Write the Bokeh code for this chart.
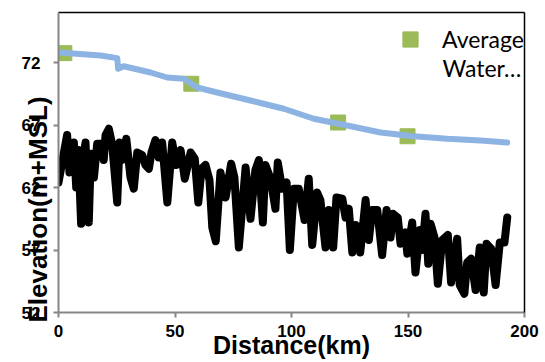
from bokeh.plotting import figure
from bokeh.models import (Range1d, FixedTicker, LinearAxis, Label, Legend, LegendItem)
from bokeh.embed import file_html
from bokeh.resources import INLINE

# ---- data ----
ground_km = [0, 3.7, 4.7, 6.6, 7.6, 8.5, 9.7, 10.6, 11.6, 13.0,
             13.9, 15.2, 16.6, 18.0, 19.4, 20.2, 21.6, 23.0, 25.2, 26.2,
             27.3, 29.1, 30.9, 32.3, 33.8, 35.9, 37.3, 38.8, 39.9, 41.6,
             43.0, 44.5, 46.7, 48.8, 50.5, 52.4, 54.2, 56.7, 58.5, 60.0,
             61.4, 63.1, 64.8, 66.0, 67.5, 69.5, 71.7, 74.1, 75.5, 77.4,
             80.3, 82.4, 84.5, 86.0, 87.7, 88.8, 91.0, 93.1, 94.1, 96.0,
             97.9, 99.3, 101.0, 103.1, 105.6, 107.4, 108.9, 111.0, 112.4, 114.6,
             116.0, 117.9, 119.3, 121.8, 123.2, 124.6, 126.1, 127.5, 129.5, 131.8,
             133.2, 134.6, 136.8, 138.9, 140.8, 142.5, 143.6, 145.6, 146.8, 148.9,
             149.7, 151.8, 153.2, 155.1, 156.1, 157.5, 158.7, 159.7, 161.4, 162.8,
             164.7, 167.1, 168.5, 171.1, 172.2, 174.2, 175.4, 177.1, 179.0, 180.8,
             182.5, 183.7, 185.7, 187.6, 189.4, 191.4, 192.6]
ground_elev = [62.4, 66.2, 63.2, 65.6, 62.0, 65.0, 59.1, 64.4, 65.6, 59.2,
               64.7, 62.8, 65.5, 65.5, 64.2, 66.2, 66.7, 65.5, 60.8, 65.6,
               64.2, 65.9, 62.8, 61.9, 64.8, 64.6, 63.8, 63.5, 64.8, 65.8,
               64.4, 65.6, 60.8, 65.6, 63.8, 65.0, 62.7, 64.8, 64.3, 60.8,
               63.5, 63.8, 62.6, 58.8, 57.7, 63.2, 61.2, 63.9, 62.8, 57.2,
               63.6, 59.5, 63.4, 64.2, 59.2, 63.8, 62.7, 60.3, 64.0, 61.9,
               62.4, 57.0, 61.9, 61.9, 59.4, 62.7, 57.4, 61.6, 61.0, 57.2,
               60.2, 57.2, 61.2, 61.1, 59.6, 60.3, 56.8, 59.0, 56.8, 61.0,
               57.8, 60.2, 60.2, 56.6, 60.2, 58.0, 59.9, 59.6, 57.5, 58.4,
               56.7, 59.2, 55.2, 58.6, 57.0, 59.9, 55.9, 59.1, 58.0, 54.3,
               57.8, 58.2, 54.4, 57.9, 54.2, 53.5, 56.0, 56.3, 53.8, 57.2,
               53.6, 57.5, 57.1, 54.2, 57.6, 57.6, 59.6]

water_km = [0, 7.7, 18, 25.2, 25.6, 28, 39.5, 46.6, 53.8, 59.5, 68.1, 82.4,
            96.7, 109.6, 123.9, 138.2, 152.5, 166.8, 181.1, 192.6]
water_elev = [72.8, 72.7, 72.56, 72.35, 71.5, 71.7, 71.2, 70.8, 70.7, 70.0, 69.6, 68.96,
              68.3, 67.5, 66.96, 66.4, 66.1, 65.9, 65.76, 65.6]

avg_km = [2.5, 57.0, 120.0, 149.8]
avg_elev = [72.75, 70.3, 67.2, 66.1]

x_ticks = [0, 50, 100, 150, 200]
y_ticks = [52, 57, 62, 67, 72]
legend_line1 = "Average"
legend_line2 = "Water…"
x_title = "Distance(km)"
y_title = "Elevation(m+MSL)"

GREEN = "#9bbb59"
BLUE = "#8db3e2"

# ---- figure ----
p = figure(width=545, height=362, output_backend="svg", toolbar_location=None,
           x_range=Range1d(0, 200), y_range=Range1d(52, 76),
           min_border_left=58, min_border_right=21, min_border_top=12,
           min_border_bottom=50)
p.outline_line_color = None
p.xgrid.visible = False
p.ygrid.visible = False
p.background_fill_color = "white"
p.border_fill_color = "white"

axis_gray = "#868686"
for ax in (p.xaxis[0], p.yaxis[0]):
    ax.axis_line_color = axis_gray
    ax.axis_line_width = 2
    ax.major_tick_line_color = axis_gray
    ax.major_tick_line_width = 2
    ax.major_tick_in = 0
    ax.major_tick_out = 5
    ax.minor_tick_line_color = None
    ax.major_label_text_font = "Liberation Sans"
    ax.major_label_text_font_style = "bold"
    ax.major_label_text_font_size = "17px"
    ax.major_label_text_color = "black"
    ax.axis_label_text_font = "Liberation Sans"
    ax.axis_label_text_font_style = "bold"
    ax.axis_label_text_color = "black"

p.xaxis.ticker = FixedTicker(ticks=x_ticks)
p.yaxis.ticker = FixedTicker(ticks=y_ticks)
p.xaxis.major_label_standoff = 7
p.yaxis.major_label_standoff = 13

p.xaxis.axis_label = x_title
p.xaxis.axis_label_text_font_size = "25px"
p.xaxis.axis_label_standoff = -9
# trailing no-break spaces push the visible title down along the axis, as in the original
p.yaxis.axis_label = y_title + "\u00a0" * 13
p.yaxis.axis_label_text_font_size = "26px"
p.yaxis.axis_label_standoff = -34

# black frame on top and right
for side in ("above", "right"):
    a = LinearAxis(ticker=FixedTicker(ticks=[]))
    a.axis_line_color = "black"
    a.axis_line_width = 1.5
    a.major_tick_line_color = None
    a.minor_tick_line_color = None
    a.major_label_text_font_size = "0px"
    p.add_layout(a, side)

# ---- series ----
p.line(ground_km, ground_elev, line_color="black", line_width=8,
       line_join="round", line_cap="round")
sq = p.scatter(avg_km, avg_elev, marker="square", size=15,
               fill_color=GREEN, line_color=GREEN)
p.line(water_km, water_elev, line_color=BLUE, line_width=6,
       line_join="round", line_cap="round")

legend = Legend(items=[LegendItem(label=legend_line1, renderers=[sq])],
                location=(333, 254), padding=0, margin=0, spacing=0,
                glyph_width=38, glyph_height=38, label_standoff=13,
                label_text_font="Lato", label_text_font_size="23px",
                label_text_color="black",
                border_line_color=None, background_fill_alpha=0)
p.add_layout(legend)

p.add_layout(Label(x=164.8, y=71.6, text=legend_line2, text_font="Lato",
                   text_font_size="23px", text_baseline="middle", text_align="left",
                   text_color="black"))

open("out.html", "w").write(file_html(p, INLINE))
